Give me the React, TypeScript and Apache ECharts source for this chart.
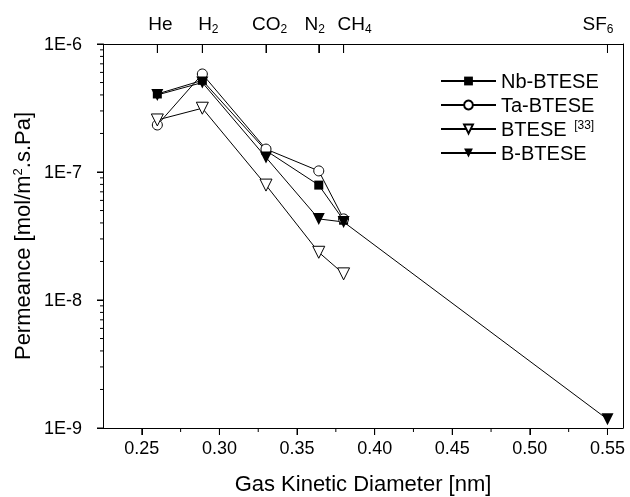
import React, { useEffect, useRef } from "react";
import * as echarts from "echarts";

const gasDiameters = [0.26, 0.289, 0.33, 0.364, 0.38, 0.55];
const gasLabels = [
  "{padL6|}{m|He}",
  "{padL12|}{m|H}{s|2}",
  "{padL7|}{m|CO}{s|2}",
  "{m|N}{s|2}{padR8|}",
  "{padL22|}{m|CH}{s|4}",
  "{m|SF}{s|6}{padR19|}",
];
const nbBtese = [4.07e-7, 5.2e-7, 1.47e-7, 7.9e-8, 4.2e-8];
const taBtese = [2.33e-7, 5.83e-7, 1.51e-7, 1.02e-7, 4.3e-8];
const btese = [2.55e-7, 3.15e-7, 7.9e-8, 2.36e-8, 1.6e-8];
const bBtese = [4.0e-7, 5.0e-7, 1.3e-7, 4.3e-8, 4.07e-8, 1.17e-9];
const xMajorTicks = [0.25, 0.3, 0.35, 0.4, 0.45, 0.5, 0.55];
const xMinorTicks = [0.275, 0.325, 0.375, 0.425, 0.475, 0.525];
const yMajorTicks = [1e-9, 1e-8, 1e-7, 1e-6];
const yMinorTicks: number[] = [];
for (let d = -9; d <= -7; d++) for (let m = 2; m <= 9; m++) yMinorTicks.push(m * Math.pow(10, d));

const X_MIN = 0.225;
const X_MAX = 0.56;
const Y_MIN = 1e-9;
const Y_MAX = 1e-6;

const FONT = "Arial, 'Liberation Sans', sans-serif";
const BLACK = "#000";

function pairs(vals: number[]) {
  return vals.map((v, i) => [gasDiameters[i], v]);
}

function tickSeries(points: number[][], dx: number, dy: number) {
  return {
    type: "custom",
    silent: true,
    clip: false,
    data: points,
    renderItem: (_params: any, api: any) => {
      const p = api.coord([api.value(0), api.value(1)]);
      return {
        type: "line",
        shape: { x1: p[0], y1: p[1], x2: p[0] + dx, y2: p[1] + dy },
        style: { stroke: BLACK, lineWidth: 1 },
      };
    },
  };
}

export default function App() {
  const ref = useRef<HTMLDivElement>(null);
  useEffect(() => {
    const chart = echarts.init(ref.current!, null, { renderer: "svg" });
    const axisLine = { show: true, lineStyle: { color: BLACK, width: 1 } };
    const baseX = { type: "value", min: X_MIN, max: X_MAX, splitLine: { show: false } };
    const baseY = { type: "log", logBase: 10, min: Y_MIN, max: Y_MAX, splitLine: { show: false } };
    chart.setOption({
      animation: false,
      grid: { left: 103, right: 7, top: 44, bottom: 69, outerBoundsMode: "none", containLabel: false },
      legend: {
        left: 435,
        top: 66,
        orient: "vertical",
        itemWidth: 55,
        itemHeight: 11,
        itemGap: 4,
        textStyle: {
          fontFamily: FONT,
          fontSize: 20,
          color: BLACK,
          rich: {
            sup: { fontFamily: FONT, fontSize: 12, verticalAlign: "top", padding: [0, 0, 8, 2] },
          },
        },
        formatter: (name: string) => (name === "BTESE" ? "BTESE {sup|[33]}" : name),
        data: ["Nb-BTESE", "Ta-BTESE", "BTESE", "B-BTESE"],
      },
      xAxis: [
        {
          ...baseX,
          position: "bottom",
          axisLine,
          axisTick: { show: true, length: 7, customValues: xMajorTicks, lineStyle: { color: BLACK } },
          axisLabel: {
            show: true,
            customValues: xMajorTicks,
            formatter: (v: number) => v.toFixed(2),
            fontFamily: FONT,
            fontSize: 18,
            color: BLACK,
            margin: 11,
          },
          name: "Gas Kinetic Diameter [nm]",
          nameLocation: "middle",
          nameGap: 44,
          nameTextStyle: { fontFamily: FONT, fontSize: 22, color: BLACK },
        },
        {
          ...baseX,
          position: "top",
          axisLine,
          axisTick: { show: true, inside: true, length: 9, customValues: gasDiameters, lineStyle: { color: BLACK } },
          axisLabel: {
            show: true,
            customValues: gasDiameters,
            formatter: (v: number) => {
              const i = gasDiameters.findIndex((g) => Math.abs(g - v) < 1e-6);
              return i >= 0 ? gasLabels[i] : "";
            },
            margin: 11,
            rich: {
              m: { fontFamily: FONT, fontSize: 19, color: BLACK, lineHeight: 19, verticalAlign: "top" },
              s: { fontFamily: FONT, fontSize: 12, color: BLACK, lineHeight: 12, verticalAlign: "top", padding: [9, 0, 0, 0] },
              padL6: { width: 6 },
              padL7: { width: 7 },
              padL12: { width: 12 },
              padL22: { width: 22 },
              padR8: { width: 8 },
              padR19: { width: 19 },
            },
          },
        },
      ],
      yAxis: [
        {
          ...baseY,
          position: "left",
          axisLine,
          axisTick: { show: true, length: 6, customValues: yMajorTicks, lineStyle: { color: BLACK } },
          axisLabel: {
            show: true,
            customValues: yMajorTicks,
            formatter: (v: number) => "1E" + Math.round(Math.log10(v)),
            fontFamily: FONT,
            fontSize: 18,
            color: BLACK,
            margin: 21,
          },
          name: "Permeance [mol/m{sup|2}.s.Pa]",
          nameLocation: "middle",
          nameGap: 63,
          nameTextStyle: {
            fontFamily: FONT,
            fontSize: 22,
            color: BLACK,
            rich: {
              sup: { fontFamily: FONT, fontSize: 13, color: BLACK, verticalAlign: "top", padding: [0, 0, 8, 0] },
            },
          },
        },
        {
          ...baseY,
          position: "right",
          axisLine,
          axisTick: { show: false },
          axisLabel: { show: false },
        },
      ],
      series: [
        { type: "line", name: "Nb-BTESE", data: pairs(nbBtese), symbol: "rect", symbolSize: 9, itemStyle: { color: BLACK }, lineStyle: { color: BLACK, width: 1 } },
        { type: "line", name: "Ta-BTESE", data: pairs(taBtese), symbol: "circle", symbolSize: 10, itemStyle: { color: "#fff", borderColor: BLACK, borderWidth: 1 }, lineStyle: { color: BLACK, width: 1 } },
        { type: "line", name: "BTESE", data: pairs(btese), symbol: "triangle", symbolRotate: 180, symbolSize: 12, itemStyle: { color: "#fff", borderColor: BLACK, borderWidth: 1 }, lineStyle: { color: BLACK, width: 1 } },
        { type: "line", name: "B-BTESE", data: pairs(bBtese), symbol: "triangle", symbolRotate: 180, symbolSize: 12, itemStyle: { color: BLACK }, lineStyle: { color: BLACK, width: 1 } },
        tickSeries(xMajorTicks.map((v) => [v, Y_MIN]), 0, 7),
        tickSeries(xMinorTicks.map((v) => [v, Y_MIN]), 0, 4),
        tickSeries(gasDiameters.map((v) => [v, Y_MAX]), 0, 9),
        tickSeries(yMajorTicks.map((v) => [X_MIN, v]), -6, 0),
        tickSeries(yMinorTicks.map((v) => [X_MIN, v]), -3, 0),
      ],
    });
    return () => chart.dispose();
  }, []);
  return <div ref={ref} style={{ position: "fixed", left: 0, top: 0, width: 630, height: 497 }} />;
}
